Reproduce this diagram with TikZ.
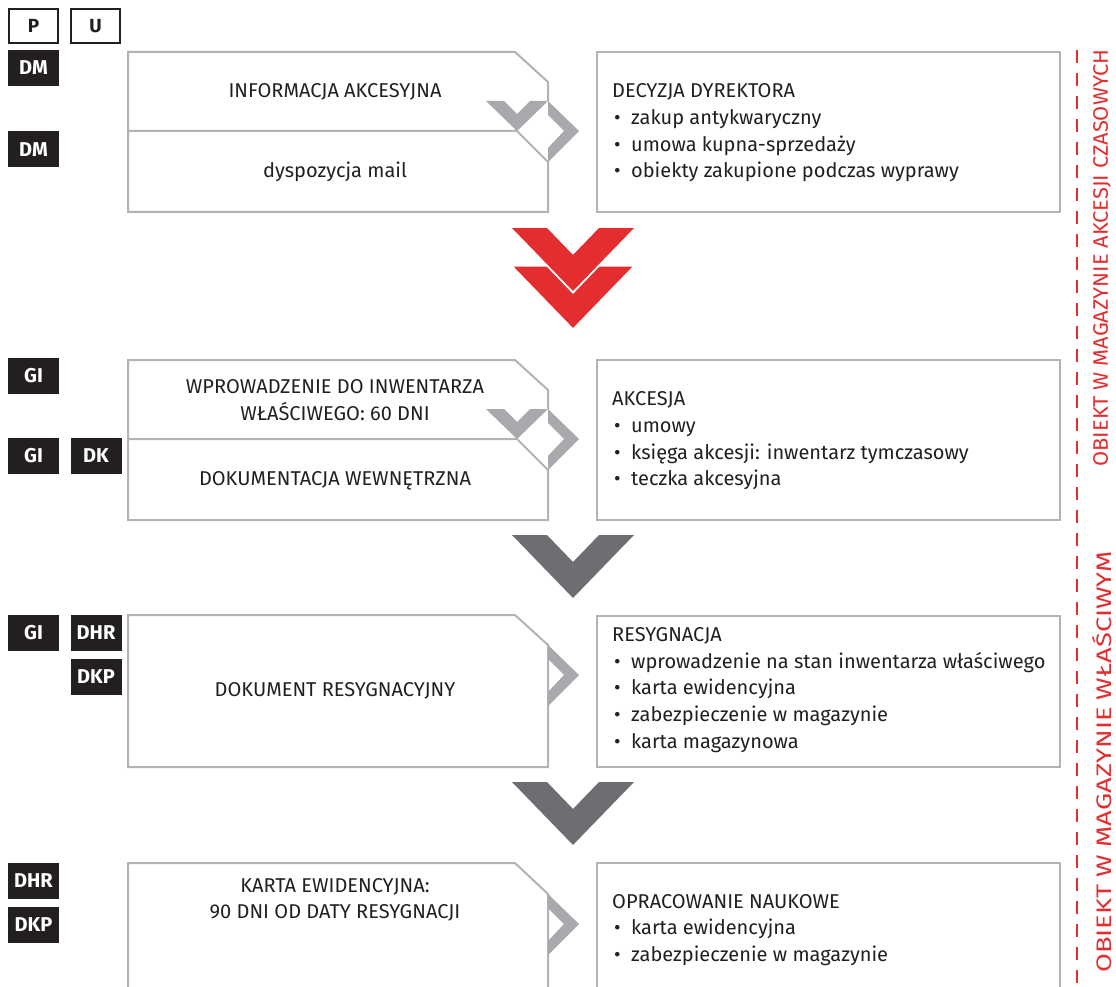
\documentclass[tikz,border=0pt]{standalone}
\usepackage{fontspec}
\setmainfont{Fira Sans}
\definecolor{ink}{HTML}{231F20}
\definecolor{frameg}{HTML}{B1B3B6}
\definecolor{chevg}{HTML}{A7A9AC}
\definecolor{chevdark}{HTML}{6D6E71}
\definecolor{redc}{HTML}{E32D2F}
\newcommand\bul{\makebox[19pt][l]{\hspace{2pt}\textbullet}}
\tikzset{
  bigchev/.pic={\path[pic actions] (-61,0) -- (-26,0) -- (0,27) -- (26,0) -- (61,0) -- (0,63) -- cycle;},
  sidechev/.pic={\path[pic actions] (0,0) -- (31,30) -- (0,61) -- (0,47) -- (16,30) -- (0,14) -- cycle;},
  downchev/.pic={\path[pic actions] (0,0) -- (18,0) -- (31,13) -- (44,0) -- (62,0) -- (31,30) -- cycle;}
}
\begin{document}
\begin{tikzpicture}[x=1pt,y=-1pt,
    every node/.style={inner sep=0pt, text=ink, font=\fontsize{20}{26.7}\selectfont},
    frame/.style={draw=frameg, line width=2pt},
    badge/.style={fill=ink, text=white, font=\fontsize{20}{20}\selectfont\bfseries, minimum width=51pt, minimum height=36pt},
    keybox/.style={draw=ink, line width=1.3pt, font=\fontsize{19}{19}\selectfont\bfseries, minimum width=49pt, minimum height=34pt},
    vlabel/.style={rotate=90, text=redc, font=\fontsize{21}{21}\selectfont}]
  \useasboundingbox (0,0) rectangle (1116,987);
  \clip (0,0) rectangle (1116,987);

  % legend
  \node[keybox] (p) at (33.5,26) {P};
  \node[keybox] (u) at (95.5,26) {U};

  % row 1
  \draw[frame] (548,101) -- (548,82) -- (515,52) -- (128,52) -- (128,212) -- (548,212) -- (548,162);
  \draw[frame] (128,131) -- (517,131) -- (548,162);
  \draw[frame] (597,52) rectangle (1060,212);
  \pic[fill=chevg] at (486,101) {downchev};
  \pic[fill=chevg] at (548,101) {sidechev};
  \node[badge] (dm1) at (33.5,68) {DM};
  \node[badge] (dm2) at (33.5,149.5) {DM};
  \node (info) at (335,92) {INFORMACJA AKCESYJNA};
  \node (mail) at (335,172) {dyspozycja mail};
  \node[anchor=west, align=left] (decyzja) at (612,133) {DECYZJA DYREKTORA\\
    \bul zakup antykwaryczny\\
    \bul umowa kupna-sprzedaży\\
    \bul obiekty zakupione podczas wyprawy};

  \pic[fill=redc] at (573,228) {bigchev};
  \pic[fill=redc, draw=white, line width=1.2pt] at (573,266) {bigchev};

  % row 2
  \draw[frame] (548,409) -- (548,390) -- (515,360) -- (128,360) -- (128,520) -- (548,520) -- (548,470);
  \draw[frame] (128,439) -- (517,439) -- (548,470);
  \draw[frame] (597,360) rectangle (1060,520);
  \pic[fill=chevg] at (486,409) {downchev};
  \pic[fill=chevg] at (548,409) {sidechev};
  \node[badge] (gi1) at (33.5,376) {GI};
  \node[badge] (gi2) at (33.5,456) {GI};
  \node[badge] (dk) at (96,456) {DK};
  \node[align=center] (wprow) at (335,400) {WPROWADZENIE DO INWENTARZA\\ WŁAŚCIWEGO: 60 DNI};
  \node (dokwew) at (335,481) {DOKUMENTACJA WEWNĘTRZNA};
  \node[anchor=west, align=left] (akcesja) at (612,441) {AKCESJA\\
    \bul umowy\\
    \bul księga akcesji: inwentarz tymczasowy\\
    \bul teczka akcesyjna};

  \pic[fill=chevdark] at (573,535) {bigchev};

  % row 3
  \draw[frame] (548,645) -- (515,615) -- (128,615) -- (128,767) -- (548,767) -- cycle;
  \draw[frame] (597,616) rectangle (1060,767);
  \pic[fill=chevg] at (548,645) {sidechev};
  \node[badge] (gi3) at (33.5,633) {GI};
  \node[badge] (dhr1) at (96,633) {DHR};
  \node[badge] (dkp1) at (96,677) {DKP};
  \node (dokres) at (335,691) {DOKUMENT RESYGNACYJNY};
  \node[anchor=west, align=left] (resyg) at (612,690) {RESYGNACJA\\
    \bul wprowadzenie na stan inwentarza właściwego\\
    \bul karta ewidencyjna\\
    \bul zabezpieczenie w magazynie\\
    \bul karta magazynowa};

  \pic[fill=chevdark] at (573,782) {bigchev};

  % row 4
  \draw[frame] (548,1000) -- (548,894) -- (515,863) -- (128,863) -- (128,1000);
  \draw[frame] (597,1000) -- (597,863) -- (1060,863) -- (1060,1000);
  \pic[fill=chevg] at (548,894) {sidechev};
  \node[badge] (dhr2) at (33.5,881) {DHR};
  \node[badge] (dkp2) at (33.5,925) {DKP};
  \node[align=center] (karta) at (335,900) {KARTA EWIDENCYJNA:\\ 90 DNI OD DATY RESYGNACJI};
  \node[anchor=west, align=left] (opraco) at (612,930) {OPRACOWANIE NAUKOWE\\
    \bul karta ewidencyjna\\
    \bul zabezpieczenie w magazynie};

  % storage zones
  \draw[redc, line width=2.5pt, dash pattern=on 13pt off 10pt] (1077,50) -- (1077,990);
  \node[vlabel] (czasowe) at (1102,258) {\scalebox{1.04}[1]{OBIEKT W MAGAZYNIE AKCESJI CZASOWYCH}};
  \node[vlabel] (wlasciwe) at (1102,762) {\scalebox{1.3}[1]{OBIEKT W MAGAZYNIE WŁAŚCIWYM}};
\end{tikzpicture}
\end{document}
